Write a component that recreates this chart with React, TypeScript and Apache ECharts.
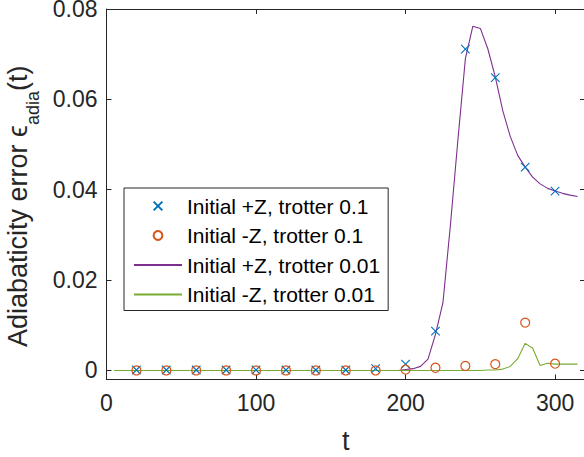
import React, { useEffect, useRef } from "react";
import * as echarts from "echarts";

const tMarkers = [20, 40, 60, 80, 100, 120, 140, 160, 180, 200, 220, 240, 260, 280, 300];
const plusZTrotter01 = [0.0001, 0.0001, 0.0001, 0.0001, 0.0001, 0.0001, 0.0001, 0.0001, 0.0004, 0.0014, 0.0087, 0.0711, 0.0648, 0.045, 0.0397];
const minusZTrotter01 = [0, 0, 0, 0, 0, 0, 0, 0, 0, 0.0002, 0.0006, 0.001, 0.0014, 0.0106, 0.0015];

const tLine = [
  5, 10, 15, 20, 25, 30, 35, 40, 45, 50, 55, 60, 65, 70, 75, 80, 85, 90, 95, 100,
  105, 110, 115, 120, 125, 130, 135, 140, 145, 150, 155, 160, 165, 170, 175, 180, 185, 190, 195, 200,
  205, 210, 215, 220, 225, 230, 235, 240, 245, 250, 255, 260, 265, 270, 275, 280, 285, 290, 295, 300,
  305, 310, 315,
];
const plusZTrotter001 = [
  0, 0, 0, 0, 0, 0, 0, 0, 0, 0, 0, 0, 0, 0, 0, 0, 0, 0, 0, 0,
  0, 0, 0, 0, 0, 0, 0, 0, 0, 0, 0, 0, 0, 0, 0, 0, 0, 0, 0, 0.0002,
  0.0004, 0.0009, 0.0025, 0.008, 0.015, 0.0322, 0.051, 0.069, 0.0762, 0.0757, 0.0712, 0.065, 0.0575, 0.0518, 0.0476, 0.045, 0.0428, 0.0413, 0.0403, 0.0397,
  0.0392, 0.0388, 0.0385,
];
const minusZTrotter001 = [
  0, 0, 0, 0, 0, 0, 0, 0, 0, 0, 0, 0, 0, 0, 0, 0, 0, 0, 0, 0,
  0, 0, 0, 0, 0, 0, 0, 0, 0, 0, 0, 0, 0, 0, 0, 0, 0, 0, 0, 0,
  0, 0, 0, 0, 0, 0, 0, 0, 0, 0, 0.0001, 0.0001, 0.0003, 0.0009, 0.0026, 0.006, 0.0049, 0.0011, 0.0016, 0.0014,
  0.0014, 0.0014, 0.0014,
];

const xTicks = [0, 100, 200, 300];
const yTicks = [0, 0.02, 0.04, 0.06, 0.08];
const seriesNames = [
  "Initial +Z, trotter 0.1",
  "Initial -Z, trotter 0.1",
  "Initial +Z, trotter 0.01",
  "Initial -Z, trotter 0.01",
];

const FONT = "'Liberation Sans', Arial, Helvetica, sans-serif";
const AX = "#262626";

export default function App() {
  const ref = useRef<HTMLDivElement>(null);
  useEffect(() => {
    if (!ref.current) return;
    const chart = echarts.init(ref.current, undefined, { renderer: "svg" });
    const zip = (xs: number[], ys: number[]) => xs.map((x, i) => [x, ys[i]]);
    const baseX = {
      type: "value",
      min: 0,
      max: 320,
      splitLine: { show: false },
      axisLine: { show: true, onZero: false, lineStyle: { color: AX, width: 1 } },
      axisTick: { show: true, inside: true, length: 5, customValues: xTicks, lineStyle: { color: AX, width: 1 } },
    };
    const baseY = {
      type: "value",
      min: -0.002,
      max: 0.08,
      splitLine: { show: false },
      axisLine: { show: true, onZero: false, lineStyle: { color: AX, width: 1 } },
      axisTick: { show: true, inside: true, length: 5, customValues: yTicks, lineStyle: { color: AX, width: 1 } },
    };
    chart.setOption({
      animation: false,
      backgroundColor: "#fff",
      grid: { left: 106.5, top: 9, width: 478.5, height: 370.5, containLabel: false, outerBoundsMode: "none" },
      xAxis: [
        {
          ...baseX,
          position: "bottom",
          name: "t",
          nameLocation: "middle",
          nameGap: 47.5,
          nameTextStyle: { fontSize: 27, color: AX, fontFamily: FONT },
          axisLabel: { customValues: xTicks, fontSize: 23, color: AX, margin: 12, fontFamily: FONT },
        },
        { ...baseX, position: "top", axisLabel: { show: false } },
      ],
      yAxis: [
        {
          ...baseY,
          position: "left",
          name: "{n|Adiabaticity error }{e|ϵ}{s|adia}{n|(t)}{p| }",
          nameLocation: "middle",
          nameGap: 60.5,
          nameRotate: 90,
          nameTextStyle: {
            color: AX,
            fontFamily: FONT,
            fontSize: 27,
            rich: {
              n: { fontSize: 27, lineHeight: 27, verticalAlign: "top", color: AX, fontFamily: FONT },
              e: { fontSize: 27, lineHeight: 27, verticalAlign: "top", color: AX, fontFamily: FONT },
              s: { fontSize: 18, lineHeight: 18, verticalAlign: "top", padding: [19, 0, 0, 0], color: AX, fontFamily: FONT },
              p: { fontSize: 27, lineHeight: 27, verticalAlign: "top", width: 24, color: AX, fontFamily: FONT },
            },
          },
          axisLabel: { customValues: yTicks, fontSize: 23, lineHeight: 16, color: AX, margin: 9, fontFamily: FONT },
        },
        { ...baseY, position: "right", axisLabel: { show: false } },
      ],
      legend: {
        orient: "vertical",
        left: 124,
        top: 188,
        padding: [6, 8, 4, 9],
        itemGap: 5.5,
        itemWidth: 48,
        itemHeight: 11,
        selectedMode: false,
        backgroundColor: "#fff",
        borderColor: AX,
        borderWidth: 1,
        textStyle: { fontSize: 21, lineHeight: 24, color: "#000", fontFamily: FONT },
        data: [
          { name: seriesNames[0] },
          { name: seriesNames[1] },
          { name: seriesNames[2], itemStyle: { opacity: 0 } },
          { name: seriesNames[3], itemStyle: { opacity: 0 } },
        ],
      },
      series: [
        {
          name: seriesNames[0],
          type: "line",
          data: zip(tMarkers, plusZTrotter01),
          symbol: "path://M0,0L10,10M10,0L0,10",
          symbolSize: 8.5,
          showSymbol: true,
          lineStyle: { opacity: 0, width: 0 },
          itemStyle: { color: "rgba(0,0,0,0)", borderColor: "#0072BD", borderWidth: 1.1 },
          emphasis: { disabled: true },
        },
        {
          name: seriesNames[1],
          type: "line",
          data: zip(tMarkers, minusZTrotter01),
          symbol: "circle",
          symbolSize: 9,
          showSymbol: true,
          lineStyle: { opacity: 0, width: 0 },
          itemStyle: { color: "rgba(0,0,0,0)", borderColor: "#D95319", borderWidth: 1.2 },
          emphasis: { disabled: true },
        },
        {
          name: seriesNames[2],
          type: "line",
          data: zip(tLine, plusZTrotter001),
          symbol: "none",
          lineStyle: { color: "#7E2F8E", width: 1.1 },
          itemStyle: { color: "#7E2F8E" },
          emphasis: { disabled: true },
        },
        {
          name: seriesNames[3],
          type: "line",
          data: zip(tLine, minusZTrotter001),
          symbol: "none",
          lineStyle: { color: "#77AC30", width: 1.1 },
          itemStyle: { color: "#77AC30" },
          emphasis: { disabled: true },
        },
      ],
    });
    return () => chart.dispose();
  }, []);
  return (
    <div
      ref={ref}
      style={{ position: "absolute", left: 0, top: 0, width: 584, height: 457 }}
    />
  );
}
